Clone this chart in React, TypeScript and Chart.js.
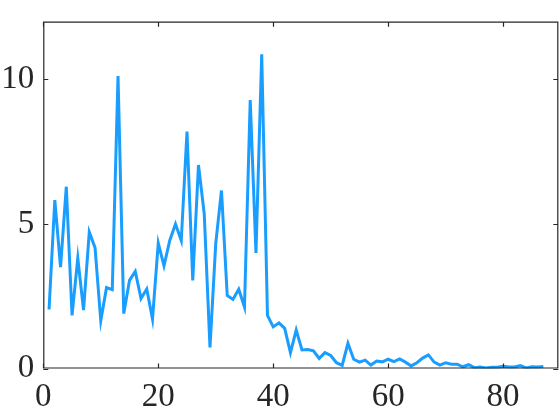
import React, { useEffect, useRef } from "react";
import { Chart, registerables } from "chart.js";

Chart.register(...registerables);

const xValues: number[] = Array.from({ length: 87 }, (_, i) => i + 1);
const yValues: number[] = [
  2.04, 5.83, 3.51, 6.29, 1.84, 3.82, 2.02, 4.72, 4.18, 1.65,
  2.8, 2.73, 10.12, 1.9, 3.05, 3.36, 2.42, 2.75, 1.71, 4.34,
  3.55, 4.43, 5.0, 4.43, 8.2, 3.05, 7.04, 5.35, 0.73, 4.32,
  6.16, 2.53, 2.39, 2.74, 2.13, 9.29, 4.0, 10.87, 1.84, 1.44,
  1.58, 1.39, 0.55, 1.33, 0.64, 0.66, 0.61, 0.35, 0.55, 0.45,
  0.2, 0.11, 0.87, 0.32, 0.22, 0.29, 0.12, 0.26, 0.23, 0.32,
  0.24, 0.33, 0.22, 0.09, 0.2, 0.36, 0.47, 0.22, 0.12, 0.2,
  0.15, 0.15, 0.06, 0.13, 0.03, 0.05, 0.02, 0.04, 0.04, 0.08,
  0.05, 0.05, 0.1, 0.02, 0.06, 0.05, 0.07,
];
const xTicks: number[] = [0, 20, 40, 60, 80];
const yTicks: number[] = [0, 5, 10];
const xMin = 0;
const xMax = 89.6;
const yMin = 0;
const yMax = 12;

const FRAME = "#262626";

const framePlugin = {
  id: "frameTicks",
  afterDraw(chart: any) {
    const { ctx, chartArea, scales } = chart;
    const { left, right, top, bottom } = chartArea;
    const len = 5;
    ctx.save();
    ctx.strokeStyle = FRAME;
    ctx.lineWidth = 1.2;
    ctx.beginPath();
    ctx.rect(left + 0.5, top + 0.5, right - left - 1, bottom - top - 1);
    for (const v of xTicks) {
      const px = Math.round(scales.x.getPixelForValue(v)) + 0.5;
      ctx.moveTo(px, bottom);
      ctx.lineTo(px, bottom - len);
      ctx.moveTo(px, top);
      ctx.lineTo(px, top + len);
    }
    for (const v of yTicks) {
      const py = Math.round(scales.y.getPixelForValue(v)) + 0.5;
      ctx.moveTo(left, py);
      ctx.lineTo(left + len, py);
      ctx.moveTo(right, py);
      ctx.lineTo(right - len, py);
    }
    ctx.stroke();
    ctx.restore();
  },
};

export default function App() {
  const ref = useRef<HTMLCanvasElement | null>(null);
  useEffect(() => {
    if (!ref.current) return;
    const font = { family: "'Liberation Serif', 'Times New Roman', serif", size: 33 };
    const chart = new Chart(ref.current, {
      type: "line",
      data: {
        datasets: [
          {
            data: xValues.map((x, i) => ({ x, y: yValues[i] })),
            borderColor: "#199eff",
            borderWidth: 3,
            pointRadius: 0,
            fill: false,
            tension: 0,
          },
        ],
      },
      options: {
        animation: false,
        responsive: false,
        maintainAspectRatio: false,
        layout: { padding: { top: 21.7, right: 1.7, left: 0, bottom: 0 } },
        plugins: { legend: { display: false }, tooltip: { enabled: false } },
        scales: {
          x: {
            type: "linear",
            min: xMin,
            max: xMax,
            afterBuildTicks: (s: any) => {
              s.ticks = xTicks.map((v) => ({ value: v }));
            },
            afterFit: (s: any) => {
              s.height = 51.5;
              s.paddingLeft = 0;
              s.paddingRight = 0;
            },
            grid: { display: false, drawTicks: false },
            border: { display: false },
            ticks: { font, color: "#262626", padding: 9, maxRotation: 0 },
          },
          y: {
            type: "linear",
            min: yMin,
            max: yMax,
            afterBuildTicks: (s: any) => {
              s.ticks = yTicks.map((v) => ({ value: v }));
            },
            afterFit: (s: any) => {
              s.width = 43.3;
              s.paddingTop = 0;
              s.paddingBottom = 0;
            },
            grid: { display: false, drawTicks: false },
            border: { display: false },
            ticks: { font, color: "#262626", padding: 9 },
          },
        },
      },
      plugins: [framePlugin],
    });
    return () => chart.destroy();
  }, []);
  return (
    <div style={{ position: "fixed", left: 0, top: 0, width: 560, height: 420, background: "#fff" }}>
      <canvas ref={ref} width={560} height={420} style={{ width: 560, height: 420 }} />
    </div>
  );
}
